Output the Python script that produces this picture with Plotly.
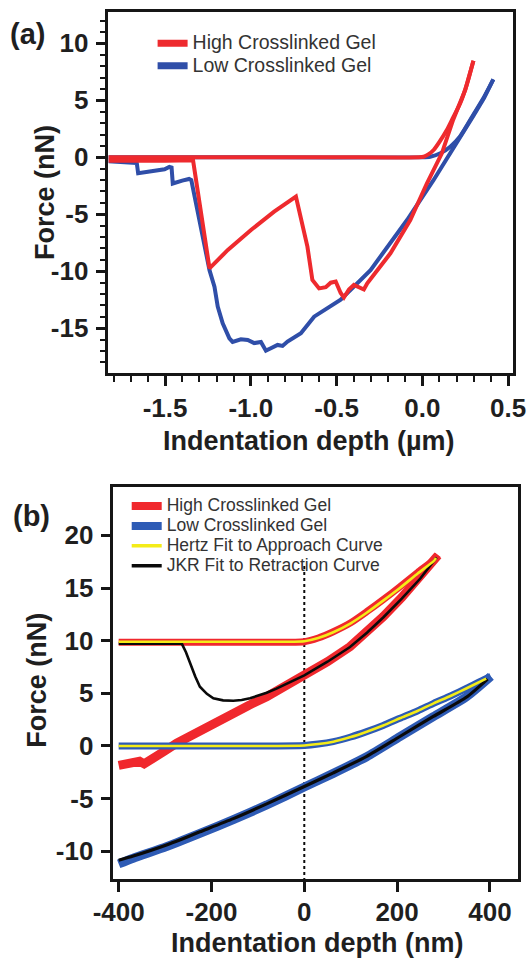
import plotly.graph_objects as go

FONT = "Liberation Sans, Arial, Helvetica, sans-serif"
INK = "#1f1f1f"
AXIS = "#161616"

RED_A = "#ee2a2e"
BLUE_A = "#2f4ea8"
RED_B = "#f0282d"
BLUE_B = "#2e5bb5"
YELLOW = "#f4ec18"
BLACK = "#0a0a0a"

# ---------------- Panel (a): force vs indentation depth (um) ----------------
hi_app_x = [-1.83, -1.5, -1.0, -0.5, -0.02, 0.008, 0.035, 0.066, 0.10, 0.143, 0.18, 0.221, 0.26, 0.298]
hi_app_y = [0.0, 0.0, 0.0, 0.0, 0.0, 0.05, 0.25, 0.64, 1.35, 2.39, 3.5, 4.74, 6.4, 8.47]

hi_ret_x = [0.298, 0.25, 0.18, 0.114, 0.027, -0.07, -0.186, -0.321, -0.341, -0.37, -0.399,
            -0.428, -0.457, -0.476, -0.505, -0.534, -0.563, -0.602, -0.641, -0.67, -0.737,
            -0.864, -0.999, -1.134, -1.241, -1.337, -1.5, -1.83]
hi_ret_y = [8.47, 5.9, 3.3, 0.35, -2.28, -5.5, -8.42, -11.05, -11.6, -11.35, -11.2,
            -11.6, -12.3, -11.9, -10.9, -11.0, -11.4, -11.5, -10.76, -7.84, -3.45,
            -4.77, -6.38, -8.13, -9.74, -0.25, -0.3, -0.3]

lo_app_x = [-1.83, -1.0, 0.0, 0.046, 0.105, 0.163, 0.221, 0.30, 0.36, 0.414]
lo_app_y = [0.0, 0.0, 0.0, 0.05, 0.35, 0.93, 1.85, 3.8, 5.3, 6.84]

lo_ret_x = [0.414, 0.36, 0.30, 0.221, 0.066, -0.089, -0.302, -0.476, -0.631, -0.708,
            -0.786, -0.815, -0.844, -0.883, -0.912, -0.941, -0.98, -1.018, -1.058, -1.106,
            -1.125, -1.164, -1.193, -1.212, -1.241, -1.347, -1.36, -1.40, -1.455, -1.462,
            -1.475, -1.503, -1.60, -1.657, -1.665, -1.74, -1.83]
lo_ret_y = [6.84, 5.2, 3.7, 1.81, -1.99, -5.5, -9.9, -12.5, -13.98, -15.44,
            -16.17, -16.55, -16.46, -16.75, -16.96, -16.2, -16.3, -16.03, -15.97, -16.2,
            -15.88, -14.56, -13.1, -11.35, -9.9, -2.0, -1.9, -2.05, -2.3, -0.9,
            -0.85, -1.05, -1.3, -1.4, -0.5, -0.45, -0.35]

a_xtick_vals = [-1.5, -1.0, -0.5, 0.0, 0.5]
a_xtick_text = ["-1.5", "-1.0", "-0.5", "0.0", "0.5"]
a_ytick_vals = [-15, -10, -5, 0, 5, 10]
a_ytick_text = ["-15", "-10", "-5", "0", "5", "10"]

# ---------------- Panel (b): force vs indentation depth (nm) ----------------
hb_app_x = [-400, -300, -200, -100, 0, 30, 62.5, 100, 134.5, 170, 206, 245, 278.7, 288]
hb_app_y = [9.85, 9.85, 9.85, 9.85, 9.9, 10.25, 10.85, 11.7, 12.75, 13.9, 15.12, 16.5, 17.66, 18.15]

hb_ret_x = [288, 250, 210, 170, 135, 98.5, 50, 0, -40, -81, -120, -153, -190, -225, -250,
            -275, -300, -320, -335, -345, -355, -370, -385, -400]
hb_ret_y = [18.1, 16.0, 14.1, 12.28, 10.8, 9.43, 8.0, 6.65, 5.6, 4.68, 3.85, 3.1, 2.3, 1.52, 0.9,
            0.26, -0.45, -1.0, -1.5, -1.7, -1.45, -1.55, -1.75, -1.85]

hertz_hi_x = [-400, -300, -200, -100, 0, 30, 62.5, 100, 134.5, 170, 206, 245, 278.7, 284]
hertz_hi_y = [9.9, 9.9, 9.9, 9.9, 9.95, 10.25, 10.8, 11.65, 12.65, 13.8, 15.0, 16.4, 17.55, 17.85]

jkr_hi_x = [-400, -300, -264, -255, -246, -235, -225, -210, -196, -175, -153, -135, -117, -100,
            -81, -60, -40, -20, 0, 50, 98.5, 135, 170, 210, 250, 285]
jkr_hi_y = [9.72, 9.72, 9.72, 8.9, 7.85, 6.6, 5.63, 4.95, 4.53, 4.33, 4.3, 4.36, 4.53, 4.75,
            5.05, 5.45, 5.85, 6.25, 6.7, 8.0, 9.4, 10.75, 12.2, 14.0, 15.9, 17.9]

lb_app_x = [-400, -300, -200, -100, 0, 30, 62.5, 100, 134.5, 170, 206, 245, 278.7, 315, 350, 389.4, 402]
lb_app_y = [0.0, 0.0, 0.0, 0.0, 0.05, 0.18, 0.41, 0.85, 1.36, 1.95, 2.63, 3.35, 4.05, 4.75, 5.48, 6.35, 6.6]

lb_ret_x = [402, 350, 278, 206, 134.5, 62.5, 0, -81, -153, -225, -297, -368.5, -400]
lb_ret_y = [6.6, 4.68, 2.78, 0.88, -1.02, -2.6, -3.9, -5.6, -7.0, -8.3, -9.56, -10.66, -11.2]

hertz_lo_x = [-400, -300, -200, -100, 0, 30, 62.5, 100, 134.5, 170, 206, 245, 278.7, 315, 350, 392]
hertz_lo_y = [0.0, 0.0, 0.0, 0.0, 0.05, 0.18, 0.41, 0.85, 1.36, 1.95, 2.63, 3.35, 4.05, 4.75, 5.48, 6.4]

jkr_lo_x = [-400, -368.5, -297, -225, -153, -81, 0, 62.5, 134.5, 206, 278, 350, 395]
jkr_lo_y = [-10.85, -10.45, -9.4, -8.15, -6.9, -5.5, -3.85, -2.55, -0.98, 0.9, 2.8, 4.65, 6.35]

contact_x = [0, 0]
contact_y = [17.1, -12.66]

b_xtick_vals = [-400, -200, 0, 200, 400]
b_xtick_text = ["-400", "-200", "0", "200", "400"]
b_ytick_vals = [-10, -5, 0, 5, 10, 15, 20]
b_ytick_text = ["-10", "-5", "0", "5", "10", "15", "20"]

names_a = ["High Crosslinked Gel", "Low Crosslinked Gel"]
names_b = ["High Crosslinked Gel", "Low Crosslinked Gel",
           "Hertz Fit to Approach Curve", "JKR Fit to Retraction Curve"]

W, H = 529, 961

fig = go.Figure()


def line(x, y, color, width, xa, ya, dash=None, smooth=False):
    shape = dict(shape="spline", smoothing=0.6) if smooth else dict(shape="linear")
    fig.add_trace(go.Scatter(
        x=x, y=y, mode="lines", xaxis=xa, yaxis=ya, showlegend=False,
        line=dict(color=color, width=width, dash=dash, **shape), hoverinfo="skip"))


def legend_entry(name, color, width, legend, size):
    fig.add_trace(go.Scatter(
        x=[None], y=[None], mode="lines", name=f'<span style="font-size:{size}px">{name}</span>',
        line=dict(color=color, width=width), legend=legend, showlegend=True))


# panel (a) curves
line(lo_app_x, lo_app_y, BLUE_A, 4, "x", "y", smooth=True)
line(lo_ret_x, lo_ret_y, BLUE_A, 4, "x", "y")
line(hi_app_x, hi_app_y, RED_A, 4, "x", "y", smooth=True)
line(hi_ret_x, hi_ret_y, RED_A, 4, "x", "y")

# panel (b) curves
line(contact_x, contact_y, BLACK, 2, "x2", "y2", dash="3px,3px")
line(hb_app_x, hb_app_y, RED_B, 7, "x2", "y2", smooth=True)
line(hb_ret_x, hb_ret_y, RED_B, 9, "x2", "y2")
line(lb_app_x, lb_app_y, BLUE_B, 7, "x2", "y2", smooth=True)
line(lb_ret_x, lb_ret_y, BLUE_B, 9, "x2", "y2", smooth=True)
line(jkr_hi_x, jkr_hi_y, BLACK, 2.6, "x2", "y2")
line(jkr_lo_x, jkr_lo_y, BLACK, 3.2, "x2", "y2", smooth=True)
line(hertz_hi_x, hertz_hi_y, YELLOW, 2.6, "x2", "y2", smooth=True)
line(hertz_lo_x, hertz_lo_y, YELLOW, 2.6, "x2", "y2", smooth=True)

# legend entries
legend_entry(names_a[0], RED_A, 7, "legend", 19.5)
legend_entry(names_a[1], BLUE_A, 7, "legend", 19.5)
legend_entry(names_b[0], RED_B, 8, "legend2", 17.5)
legend_entry(names_b[1], BLUE_B, 8, "legend2", 17.5)
legend_entry(names_b[2], YELLOW, 3.5, "legend2", 17.5)
legend_entry(names_b[3], BLACK, 3.5, "legend2", 17.5)

tickfont = dict(family=FONT, size=26, color=INK, weight="bold")


def axis(domain, rng, vals, text, anchor, standoff, minor=None):
    d = dict(domain=domain, range=rng, anchor=anchor, showline=True, mirror=True,
             automargin=False,
             linecolor=AXIS, linewidth=2.5, ticks="outside", ticklen=10, tickwidth=2.5,
             tickcolor=AXIS, tickmode="array", tickvals=vals, ticktext=text,
             tickfont=tickfont, showgrid=False, zeroline=False, ticklabelstandoff=standoff)
    if minor is not None:
        d["minor"] = dict(tickmode="linear", tick0=0, dtick=minor, ticks="outside",
                          ticklen=6, tickwidth=2, tickcolor=AXIS, showgrid=False)
    return d


def px_x(p):
    return p / W


def px_y(p):
    return 1 - p / H


fig.update_layout(
    template="none",
    width=W, height=H, margin=dict(l=0, r=0, t=0, b=0, autoexpand=False),
    paper_bgcolor="white", plot_bgcolor="white",
    font=dict(family=FONT, color=INK),
    xaxis=axis([px_x(108.3), px_x(512.7)], [-1.831, 0.527], a_xtick_vals, a_xtick_text, "y", 0, 0.1),
    yaxis=axis([px_y(373.3), px_y(12.3)], [-18.95, 12.72], a_ytick_vals, a_ytick_text, "x", 2, 1),
    xaxis2=axis([px_x(113.3), px_x(518.3)], [-411.6, 461.2], b_xtick_vals, b_xtick_text, "y2", -2),
    yaxis2=axis([px_y(879.3), px_y(486.7)], [-12.66, 24.62], b_ytick_vals, b_ytick_text, "x2", 2),
    legend=dict(x=px_x(152.6), y=px_y(26.95), xanchor="left", yanchor="top",
                bgcolor="rgba(0,0,0,0)", borderwidth=0, tracegroupgap=0,
                font=dict(family=FONT, size=15, color="#333333")),
    legend2=dict(x=px_x(126.7), y=px_y(491.05), xanchor="left", yanchor="top",
                 bgcolor="rgba(0,0,0,0)", borderwidth=0, tracegroupgap=0,
                 font=dict(family=FONT, size=13, color="#333333")),
)

title_font = dict(family=FONT, size=27, color=INK, weight="bold")
label_font = dict(family=FONT, size=29, color=INK, weight="bold")


def note(text, x, y, font, angle=0):
    fig.add_annotation(text=text, x=px_x(x), y=px_y(y), xref="paper", yref="paper",
                       xanchor="center", yanchor="middle", showarrow=False,
                       font=font, textangle=angle)


note("Indentation depth (µm)", 309, 441, title_font)
note("Force (nN)", 45, 193, title_font, -90)
note("Indentation depth (nm)", 316.7, 943, title_font)
note("Force (nN)", 36.7, 680, title_font, -90)
note("(a)", 27.5, 34, label_font)
note("(b)", 31, 515.5, label_font)

fig.write_html("out.html")
